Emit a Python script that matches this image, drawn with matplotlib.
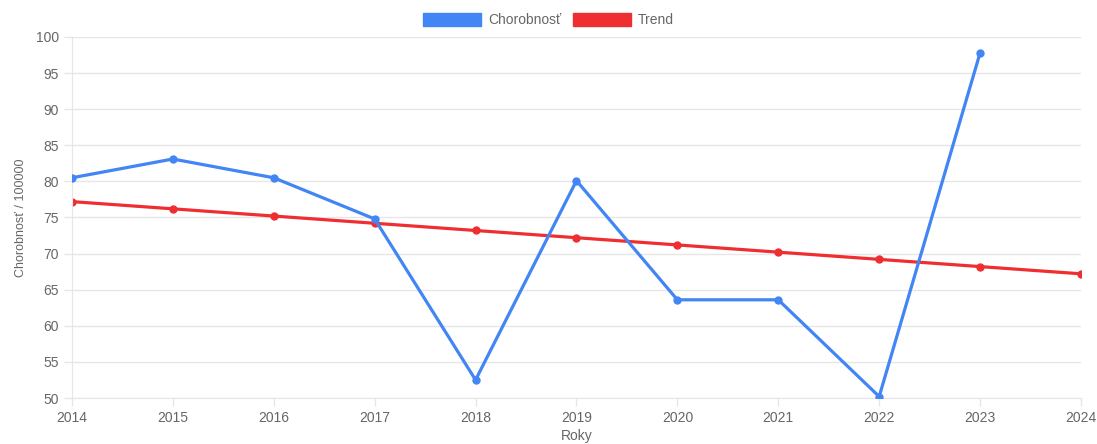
import matplotlib.pyplot as plt
from matplotlib.patches import Patch

plt.rcParams['font.family'] = ['Liberation Sans', 'DejaVu Sans']

roky = [2014, 2015, 2016, 2017, 2018, 2019, 2020, 2021, 2022, 2023]
chorobnost = [80.5, 83.1, 80.5, 74.8, 52.5, 80.1, 63.6, 63.6, 50.2, 97.8]
roky_trend = [2014, 2015, 2016, 2017, 2018, 2019, 2020, 2021, 2022, 2023, 2024]
trend = [77.2, 76.2, 75.2, 74.2, 73.2, 72.2, 71.2, 70.2, 69.2, 68.2, 67.2]

modra = '#4285f4'
cervena = '#ee2e31'
seda = '#666666'
mriezka = '#e6e6e6'

fig = plt.figure(figsize=(10.97, 4.44), dpi=100)
ax = fig.add_axes([0.0656, 0.1036, 0.9198, 0.8131])

ax.plot(roky, chorobnost, color=modra, lw=2.3, marker='o', ms=5, zorder=3)
ax.plot(roky_trend, trend, color=cervena, lw=2.3, marker='o', ms=5, zorder=2)

ax.set_xlim(2014, 2024)
ax.set_ylim(50, 100)
ax.set_xticks(roky_trend)
ax.set_yticks(range(50, 101, 5))
ax.grid(True, axis='y', color=mriezka, lw=1)
ax.set_axisbelow(True)
for s in ['top', 'right']:
    ax.spines[s].set_visible(False)
for s in ['left', 'bottom']:
    ax.spines[s].set_color(mriezka)
ax.tick_params(colors=mriezka, labelcolor=seda, labelsize=10, length=6, width=1)

ax.set_xlabel('Roky', color=seda, fontsize=10, labelpad=3)
ax.set_ylabel('Chorobnosť / 100000', color=seda, fontsize=9, labelpad=6)

handles = [Patch(facecolor=modra, edgecolor=modra), Patch(facecolor=cervena, edgecolor=cervena)]
fig.legend(handles, ['Chorobnosť', 'Trend'], loc='center', bbox_to_anchor=(0.5, 0.955),
           ncol=2, frameon=False, fontsize=10, labelcolor=seda,
           handlelength=4.2, handleheight=1.1, columnspacing=0.8, handletextpad=0.5)

fig.savefig('out.png', dpi=100)
